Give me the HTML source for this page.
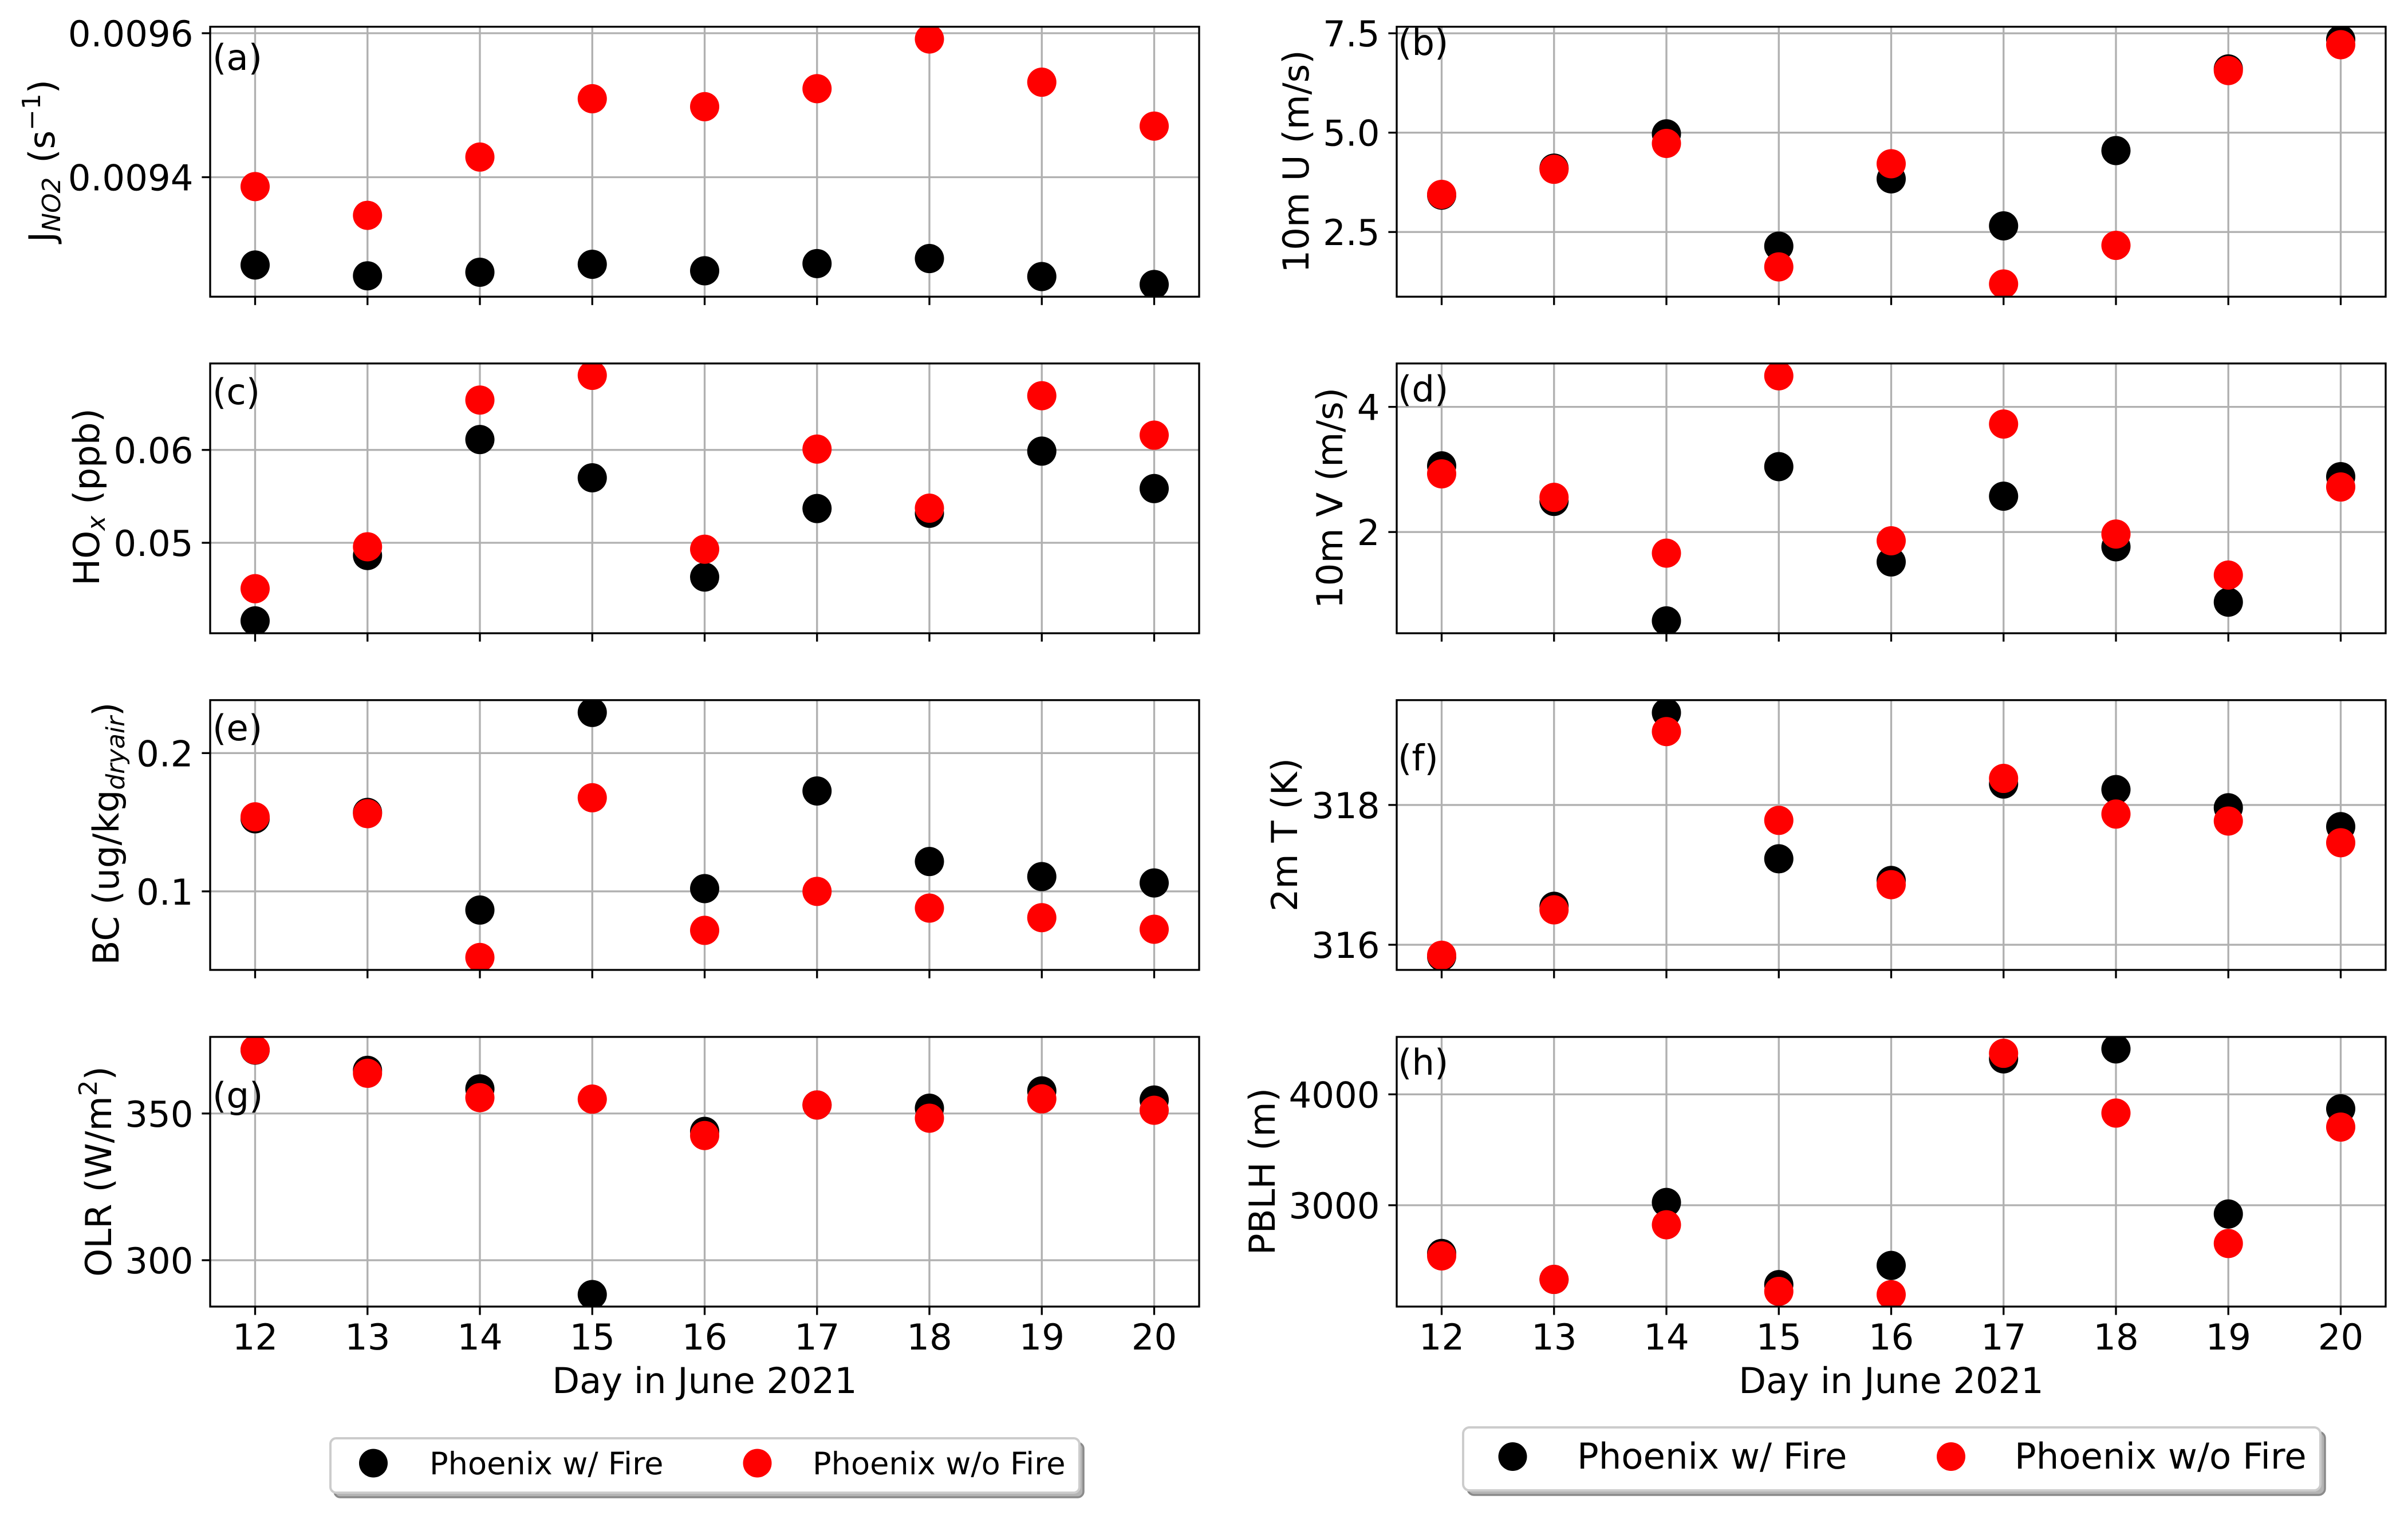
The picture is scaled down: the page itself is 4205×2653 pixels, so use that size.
<!DOCTYPE html>
<html lang="en">
<head>
<meta charset="utf-8">
<title>Phoenix with and without fire, June 2021</title>
<style>
html,body{margin:0;padding:0;background:#fff;}
svg{display:block;}
text{font-family:"DejaVu Sans","Liberation Sans",sans-serif;fill:#000;text-rendering:geometricPrecision;}
.t{font-size:62.5px;}
.xt{font-size:62.2px;}
.lg1{font-size:54.17px;}
.lg2{font-size:62.5px;}
</style>
</head>
<body>
<svg id="figure" xmlns="http://www.w3.org/2000/svg" width="4205" height="2653" viewBox="0 0 4205 2653">
  <rect x="0" y="0" width="4205" height="2653" fill="#fff"/>
  <g id="panels"></g>

  <text class="t" text-anchor="middle" transform="translate(95 281) rotate(-90)">J<tspan font-size="43.75" font-style="italic" dy="10">NO2</tspan><tspan dy="-10" dx="5"> (s</tspan><tspan font-size="43.75" dy="-25">−1</tspan><tspan dy="25">)</tspan></text>
  <text class="t" text-anchor="middle" transform="translate(173 868) rotate(-90)">HO<tspan font-size="43.75" font-style="italic" dy="10">x</tspan><tspan dy="-10"> (ppb)</tspan></text>
  <text class="t" text-anchor="middle" transform="translate(207 1456) rotate(-90)">BC (ug/kg<tspan font-size="43.75" font-style="italic" dy="10">dryair</tspan><tspan dy="-10">)</tspan></text>
  <text class="t" text-anchor="middle" transform="translate(194 2046) rotate(-90)">OLR (W/m<tspan font-size="43.75" dy="-25">2</tspan><tspan dy="25">)</tspan></text>
  <text class="t" text-anchor="middle" transform="translate(2285 282) rotate(-90)">10m U (m/s)</text>
  <text class="t" text-anchor="middle" transform="translate(2344 870) rotate(-90)">10m V (m/s)</text>
  <text class="t" text-anchor="middle" transform="translate(2265 1458) rotate(-90)">2m T (K)</text>
  <text class="t" text-anchor="middle" transform="translate(2226 2046) rotate(-90)">PBLH (m)</text>

  <text class="xt" text-anchor="middle" x="1230.5" y="2433">Day in June 2021</text>
  <text class="xt" text-anchor="middle" x="3302.5" y="2433">Day in June 2021</text>

  <g>
    <rect x="584" y="2520" width="1308" height="95" rx="10" fill="#b4b4b4" stroke="#8a8a8a" stroke-width="3.5"/>
    <rect x="577" y="2512" width="1308" height="95" rx="10" fill="#fff" stroke="#cccccc" stroke-width="4"/>
    <circle cx="652" cy="2555.5" r="25" fill="#000"/>
    <text class="lg1" x="750" y="2575">Phoenix w/ Fire</text>
    <circle cx="1322.5" cy="2555.5" r="25" fill="#f00"/>
    <text class="lg1" x="1419" y="2575">Phoenix w/o Fire</text>
  </g>

  <g>
    <rect x="2563" y="2501" width="1497" height="110" rx="11" fill="#b4b4b4" stroke="#8a8a8a" stroke-width="3.5"/>
    <rect x="2555" y="2493" width="1497" height="110" rx="11" fill="#fff" stroke="#cccccc" stroke-width="4"/>
    <circle cx="2641.5" cy="2544" r="25" fill="#000"/>
    <text class="lg2" x="2754" y="2565">Phoenix w/ Fire</text>
    <circle cx="3407" cy="2544" r="25" fill="#f00"/>
    <text class="lg2" x="3518" y="2565">Phoenix w/o Fire</text>
  </g>
</svg>

<script>
// Shared x axis
const days = [12, 13, 14, 15, 16, 17, 18, 19, 20];
const dayLabels = ['12', '13', '14', '15', '16', '17', '18', '19', '20'];
const dayRange = [11.6, 20.4];

// (a) JNO2
const jno2Fire = [0.009278, 0.009263, 0.009268, 0.009279, 0.009270, 0.009280, 0.009287, 0.009262, 0.009251];
const jno2NoFire = [0.009387, 0.009347, 0.009428, 0.009509, 0.009498, 0.009523, 0.009592, 0.009532, 0.009471];
const jno2Range = [0.009234, 0.009609];
const jno2Ticks = [0.0094, 0.0096];
const jno2TickLabels = ['0.0094', '0.0096'];

// (b) 10m U
const uFire = [3.427, 4.108, 4.97, 2.144, 3.838, 2.655, 4.549, 6.603, 7.345];
const uNoFire = [3.447, 4.078, 4.729, 1.623, 4.218, 1.192, 2.164, 6.563, 7.214];
const uRange = [0.872, 7.665];
const uTicks = [2.5, 5.0, 7.5];
const uTickLabels = ['2.5', '5.0', '7.5'];

// (c) HOx
const hoxFire = [0.04159, 0.04863, 0.06112, 0.05700, 0.04631, 0.05369, 0.05318, 0.05987, 0.05584];
const hoxNoFire = [0.04506, 0.04957, 0.06537, 0.06803, 0.04931, 0.06009, 0.05373, 0.06584, 0.06159];
const hoxRange = [0.04026, 0.06931];
const hoxTicks = [0.05, 0.06];
const hoxTickLabels = ['0.05', '0.06'];

// (d) 10m V
const vFire = [3.057, 2.490, 0.580, 3.045, 1.522, 2.573, 1.764, 0.879, 2.885];
const vNoFire = [2.930, 2.554, 1.662, 4.497, 1.860, 3.726, 1.968, 1.312, 2.720];
const vRange = [0.382, 4.694];
const vTicks = [2, 4];
const vTickLabels = ['2', '4'];

// (e) BC
const bcFire = [0.1525, 0.1571, 0.0865, 0.2294, 0.1020, 0.1726, 0.1216, 0.1107, 0.1061];
const bcNoFire = [0.1539, 0.1562, 0.0522, 0.1677, 0.0718, 0.1000, 0.0879, 0.0810, 0.0726];
const bcRange = [0.0432, 0.2383];
const bcTicks = [0.1, 0.2];
const bcTickLabels = ['0.1', '0.2'];

// (f) 2m T
const tFire = [315.83, 316.55, 319.32, 317.23, 316.92, 318.30, 318.22, 317.96, 317.69];
const tNoFire = [315.85, 316.50, 319.05, 317.78, 316.86, 318.38, 317.87, 317.77, 317.46];
const tRange = [315.64, 319.50];
const tTicks = [316, 318];
const tTickLabels = ['316', '318'];

// (g) OLR
const olrFire = [371.6, 364.7, 358.4, 288.3, 343.9, 352.9, 351.8, 357.7, 354.6];
const olrNoFire = [371.7, 363.7, 355.4, 354.9, 342.5, 352.9, 348.4, 355.0, 351.1];
const olrRange = [284.2, 376.1];
const olrTicks = [300, 350];
const olrTickLabels = ['300', '350'];

// (h) PBLH
const pblhFire = [2565, 2331, 3025, 2284, 2457, 4320, 4410, 2921, 3870];
const pblhNoFire = [2543, 2331, 2824, 2223, 2194, 4370, 3831, 2655, 3705];
const pblhRange = [2086, 4518];
const pblhTicks = [3000, 4000];
const pblhTickLabels = ['3000', '4000'];

const NS = 'http://www.w3.org/2000/svg';
const root = document.getElementById('panels');
const lineW = 3.33;
const gridColor = '#b0b0b0';
const columns = { left: [367, 2094], right: [2439, 4166] };
const rows = [[46.7, 518.2], [634.8, 1106], [1222.8, 1694], [1811, 2282]];

function make(tag, attrs, parent) {
  const node = document.createElementNS(NS, tag);
  for (const k in attrs) node.setAttribute(k, attrs[k]);
  parent.appendChild(node);
  return node;
}
function xAxis(col, day) {
  const c = columns[col];
  return c[0] + (day - dayRange[0]) / (dayRange[1] - dayRange[0]) * (c[1] - c[0]);
}
function yAxis(row, range, v) {
  const r = rows[row];
  return r[1] - (v - range[0]) / (range[1] - range[0]) * (r[1] - r[0]);
}

function drawPanel(p) {
  const x0 = columns[p.col][0], x1 = columns[p.col][1];
  const y0 = rows[p.row][0], y1 = rows[p.row][1];
  const g = make('g', {}, root);
  
  

  const clipId = 'clip-' + p.letter;
  const cp = make('clipPath', { id: clipId }, g);
  make('rect', { x: x0, y: y0, width: x1 - x0, height: y1 - y0 }, cp);

  const plotBg = make('rect', { x: x0, y: y0, width: x1 - x0, height: y1 - y0, fill: '#fff' }, g);
  
  

  days.forEach(function (d, i) {
    const x = xAxis(p.col, d);
    const grid = make('line', { x1: x, x2: x, y1: y0, y2: y1, stroke: gridColor, 'stroke-width': lineW }, g);
    
    
    const tick = make('line', { x1: x, x2: x, y1: y1, y2: y1 + 14.6, stroke: '#000', 'stroke-width': lineW }, g);
    
    
    if (p.row === 3) {
      const lab = make('text', { x: x, y: 2357, 'text-anchor': 'middle', class: 't' }, g);
      lab.textContent = dayLabels[i];
      
      
    }
  });

  p.ticks.forEach(function (v, i) {
    const y = yAxis(p.row, p.range, v);
    const grid = make('line', { x1: x0, x2: x1, y1: y, y2: y, stroke: gridColor, 'stroke-width': lineW }, g);
    
    
    const tick = make('line', { x1: x0 - 14.6, x2: x0, y1: y, y2: y, stroke: '#000', 'stroke-width': lineW }, g);
    
    
    const lab = make('text', { x: x0 - 29.5, y: y + 23, 'text-anchor': 'end', class: 't' }, g);
    lab.textContent = p.tickLabels[i];
    
    
  });

  const marks = make('g', { 'clip-path': 'url(#' + clipId + ')' }, g);
  
  
  days.forEach(function (d, i) {
    const dot = make('circle', { cx: xAxis(p.col, d), cy: yAxis(p.row, p.range, p.fire[i]), r: 25.5, fill: '#000' }, marks);
    
    
  });
  days.forEach(function (d, i) {
    const dot = make('circle', { cx: xAxis(p.col, d), cy: yAxis(p.row, p.range, p.noFire[i]), r: 25.5, fill: '#f00' }, marks);
    
    
  });

  const frame = make('rect', { x: x0, y: y0, width: x1 - x0, height: y1 - y0, fill: 'none', stroke: '#000', 'stroke-width': lineW }, g);
  
  

  const tag = make('text', { x: x0 + p.tagDx, y: p.tagY, class: 't' }, g);
  tag.textContent = '(' + p.letter + ')';
  
  
}

drawPanel({ name: 'panel-a-jno2', letter: 'a', col: 'left', row: 0, fire: jno2Fire, noFire: jno2NoFire, range: jno2Range, ticks: jno2Ticks, tickLabels: jno2TickLabels, tagDx: 4, tagY: 122 });
drawPanel({ name: 'panel-b-10m-u', letter: 'b', col: 'right', row: 0, fire: uFire, noFire: uNoFire, range: uRange, ticks: uTicks, tickLabels: uTickLabels, tagDx: 2, tagY: 96 });
drawPanel({ name: 'panel-c-hox', letter: 'c', col: 'left', row: 1, fire: hoxFire, noFire: hoxNoFire, range: hoxRange, ticks: hoxTicks, tickLabels: hoxTickLabels, tagDx: 4, tagY: 706 });
drawPanel({ name: 'panel-d-10m-v', letter: 'd', col: 'right', row: 1, fire: vFire, noFire: vNoFire, range: vRange, ticks: vTicks, tickLabels: vTickLabels, tagDx: 2, tagY: 701 });
drawPanel({ name: 'panel-e-bc', letter: 'e', col: 'left', row: 2, fire: bcFire, noFire: bcNoFire, range: bcRange, ticks: bcTicks, tickLabels: bcTickLabels, tagDx: 4, tagY: 1293 });
drawPanel({ name: 'panel-f-2m-t', letter: 'f', col: 'right', row: 2, fire: tFire, noFire: tNoFire, range: tRange, ticks: tTicks, tickLabels: tTickLabels, tagDx: 2, tagY: 1345.5 });
drawPanel({ name: 'panel-g-olr', letter: 'g', col: 'left', row: 3, fire: olrFire, noFire: olrNoFire, range: olrRange, ticks: olrTicks, tickLabels: olrTickLabels, tagDx: 4, tagY: 1935 });
drawPanel({ name: 'panel-h-pblh', letter: 'h', col: 'right', row: 3, fire: pblhFire, noFire: pblhNoFire, range: pblhRange, ticks: pblhTicks, tickLabels: pblhTickLabels, tagDx: 2, tagY: 1877 });
</script>
</body>
</html>
